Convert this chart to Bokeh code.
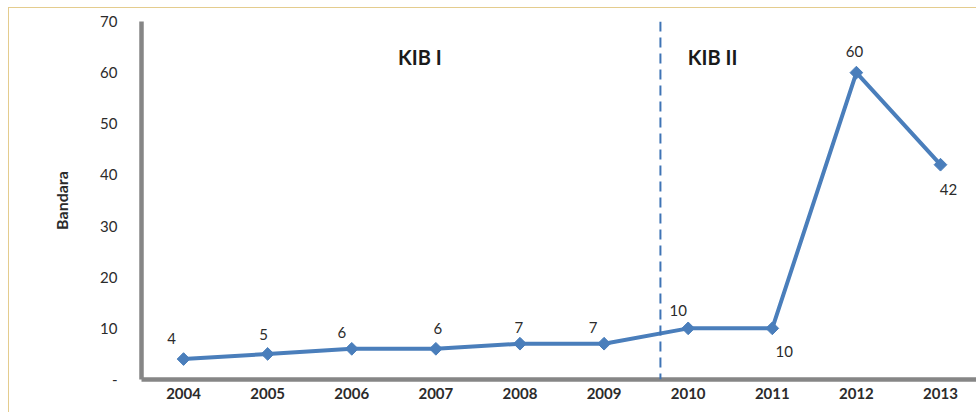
import math
from bokeh.plotting import figure
from bokeh.models import FixedTicker, Span, Label, ColumnDataSource, InlineStyleSheet
from bokeh.core.properties import value
from bokeh.embed import file_html
from bokeh.resources import INLINE

# ---- data ----
years = ["2004", "2005", "2006", "2007", "2008", "2009", "2010", "2011", "2012", "2013"]
bandara = [4, 5, 6, 6, 7, 7, 10, 10, 60, 42]
y_ticks = [0, 10, 20, 30, 40, 50, 60, 70]
y_tick_labels = ["-", "10", "20", "30", "40", "50", "60", "70"]
period_names = ["KIB I", "KIB II"]
period_split = 5.67  # between 2009 and 2010 (category index units)

# ---- styling ----
BLUE = "#4A7EBB"
AXIS = "#868686"
TXT = "#2b2b2b"
FONT = "Lato"
lab_dx = [-12, -4, -10, 2, -1, -11, -10, 12, -2, 8]
lab_dy = [-21, -19, -16, -20, -16, -16, -18, 23, -21, 25]

xs = list(range(len(years)))
src = ColumnDataSource(dict(x=xs, y=bandara, lab=[str(v) for v in bandara],
                            dx=lab_dx, dy=lab_dy))

p = figure(width=968, height=405, output_backend="svg", toolbar_location=None,
           x_range=(-0.5, 9.44), y_range=(0, 70),
           min_border_left=132, min_border_right=0, min_border_top=13, min_border_bottom=34)
p.margin = (7, 0, 0, 8)
p.stylesheets = [InlineStyleSheet(css=":host { border-top: 1.5px solid #E4CC8E !important; "
                                      "border-left: 1.5px solid #E4CC8E !important; "
                                      "box-sizing: border-box; }")]
p.outline_line_color = None
p.xgrid.grid_line_color = None
p.ygrid.grid_line_color = None

# axes
p.yaxis.ticker = FixedTicker(ticks=y_ticks)
p.yaxis.major_label_overrides = {t: l for t, l in zip(y_ticks, y_tick_labels)}
p.xaxis.ticker = FixedTicker(ticks=xs)
p.xaxis.major_label_overrides = {i: y for i, y in zip(xs, years)}
for ax in (p.xaxis, p.yaxis):
    ax.axis_line_color = AXIS
    ax.axis_line_width = 4.5
    ax.major_tick_line_color = None
    ax.minor_tick_line_color = None
    ax.major_label_text_font = FONT
    ax.major_label_text_color = TXT
p.yaxis.major_label_text_font_size = "15px"
p.yaxis.major_label_standoff = 18
p.xaxis.major_label_text_font_size = "15px"
p.xaxis.major_label_text_font_style = "bold"
p.xaxis.major_label_standoff = 2
p.yaxis.axis_label = "Bandara"
p.yaxis.axis_label_text_font = FONT
p.yaxis.axis_label_text_font_size = "16px"
p.yaxis.axis_label_text_font_style = "bold"
p.yaxis.axis_label_text_color = TXT
p.yaxis.axis_label_standoff = 26

# period divider
p.add_layout(Span(location=period_split, dimension="height", line_color="#3F74B5",
                  line_width=2, line_dash="10 6"))

# series
p.line("x", "y", source=src, line_color=BLUE, line_width=4)
p.scatter("x", "y", source=src, marker="square", angle=math.pi / 4, size=9,
          fill_color=BLUE, line_color=BLUE)
p.text("x", "y", text="lab", source=src, x_offset="dx", y_offset="dy",
       text_align="center", text_baseline="middle", text_font=value(FONT),
       text_font_size="15px", text_color=TXT)

# period labels
for name, xp in zip(period_names, [2.81, 6.29]):
    p.add_layout(Label(x=xp, y=63, text=name, text_align="center", text_baseline="middle",
                       text_font=FONT, text_font_size="20px", text_font_style="bold",
                       text_color="#1a1a1a"))

open("out.html", "w").write(file_html(p, INLINE))
